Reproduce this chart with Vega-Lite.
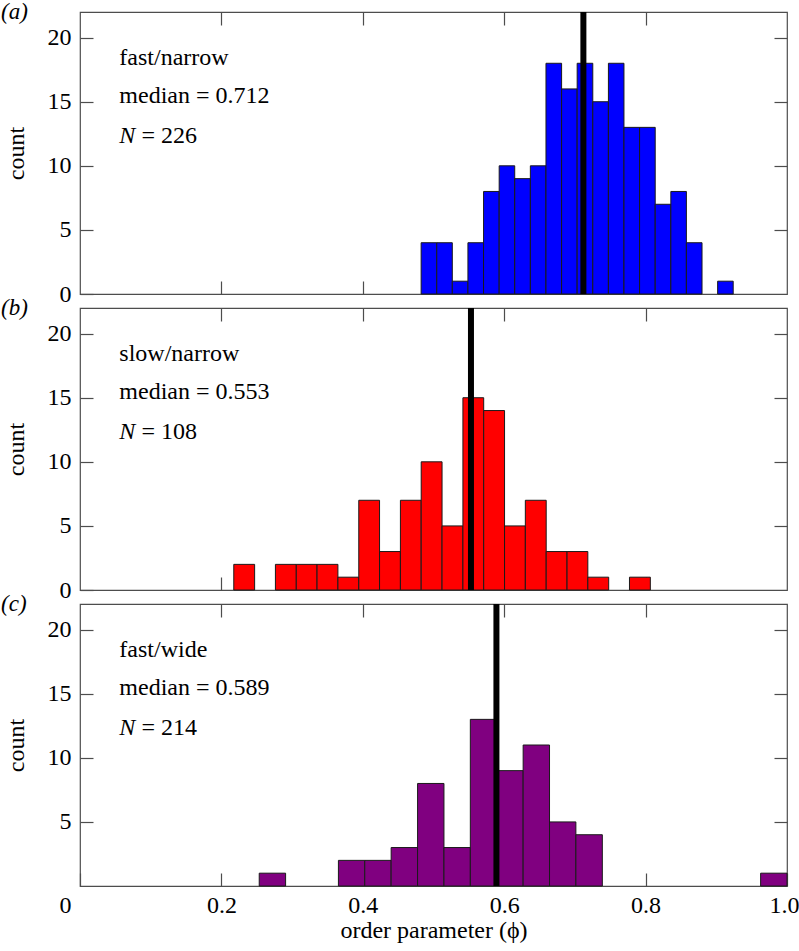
{
  "$schema": "https://vega.github.io/schema/vega-lite/v6.json",
  "padding": {"left": 0, "top": 0, "right": 0, "bottom": 0},
  "background": "white",
  "datasets": {
    "bins": [
      {"panel": "a", "bin_start": 0.4825, "bin_end": 0.5046, "count": 4},
      {"panel": "a", "bin_start": 0.5046, "bin_end": 0.5266, "count": 4},
      {"panel": "a", "bin_start": 0.5266, "bin_end": 0.5487, "count": 1},
      {"panel": "a", "bin_start": 0.5487, "bin_end": 0.5708, "count": 4},
      {"panel": "a", "bin_start": 0.5708, "bin_end": 0.5929, "count": 8},
      {"panel": "a", "bin_start": 0.5929, "bin_end": 0.6149, "count": 10},
      {"panel": "a", "bin_start": 0.6149, "bin_end": 0.6370, "count": 9},
      {"panel": "a", "bin_start": 0.6370, "bin_end": 0.6591, "count": 10},
      {"panel": "a", "bin_start": 0.6591, "bin_end": 0.6812, "count": 18},
      {"panel": "a", "bin_start": 0.6812, "bin_end": 0.7032, "count": 16},
      {"panel": "a", "bin_start": 0.7032, "bin_end": 0.7253, "count": 18},
      {"panel": "a", "bin_start": 0.7253, "bin_end": 0.7474, "count": 15},
      {"panel": "a", "bin_start": 0.7474, "bin_end": 0.7694, "count": 18},
      {"panel": "a", "bin_start": 0.7694, "bin_end": 0.7915, "count": 13},
      {"panel": "a", "bin_start": 0.7915, "bin_end": 0.8136, "count": 13},
      {"panel": "a", "bin_start": 0.8136, "bin_end": 0.8357, "count": 7},
      {"panel": "a", "bin_start": 0.8357, "bin_end": 0.8577, "count": 8},
      {"panel": "a", "bin_start": 0.8577, "bin_end": 0.8798, "count": 4},
      {"panel": "a", "bin_start": 0.9019, "bin_end": 0.9239, "count": 1},
      {"panel": "b", "bin_start": 0.2175, "bin_end": 0.2470, "count": 2},
      {"panel": "b", "bin_start": 0.2764, "bin_end": 0.3059, "count": 2},
      {"panel": "b", "bin_start": 0.3059, "bin_end": 0.3353, "count": 2},
      {"panel": "b", "bin_start": 0.3353, "bin_end": 0.3648, "count": 2},
      {"panel": "b", "bin_start": 0.3648, "bin_end": 0.3943, "count": 1},
      {"panel": "b", "bin_start": 0.3943, "bin_end": 0.4237, "count": 7},
      {"panel": "b", "bin_start": 0.4237, "bin_end": 0.4532, "count": 3},
      {"panel": "b", "bin_start": 0.4532, "bin_end": 0.4826, "count": 7},
      {"panel": "b", "bin_start": 0.4826, "bin_end": 0.5121, "count": 10},
      {"panel": "b", "bin_start": 0.5121, "bin_end": 0.5416, "count": 5},
      {"panel": "b", "bin_start": 0.5416, "bin_end": 0.5710, "count": 15},
      {"panel": "b", "bin_start": 0.5710, "bin_end": 0.6005, "count": 14},
      {"panel": "b", "bin_start": 0.6005, "bin_end": 0.6299, "count": 5},
      {"panel": "b", "bin_start": 0.6299, "bin_end": 0.6594, "count": 7},
      {"panel": "b", "bin_start": 0.6594, "bin_end": 0.6889, "count": 3},
      {"panel": "b", "bin_start": 0.6889, "bin_end": 0.7183, "count": 3},
      {"panel": "b", "bin_start": 0.7183, "bin_end": 0.7478, "count": 1},
      {"panel": "b", "bin_start": 0.7772, "bin_end": 0.8067, "count": 1},
      {"panel": "c", "bin_start": 0.2535, "bin_end": 0.2908, "count": 1},
      {"panel": "c", "bin_start": 0.3655, "bin_end": 0.4028, "count": 2},
      {"panel": "c", "bin_start": 0.4028, "bin_end": 0.4401, "count": 2},
      {"panel": "c", "bin_start": 0.4401, "bin_end": 0.4775, "count": 3},
      {"panel": "c", "bin_start": 0.4775, "bin_end": 0.5148, "count": 8},
      {"panel": "c", "bin_start": 0.5148, "bin_end": 0.5521, "count": 3},
      {"panel": "c", "bin_start": 0.5521, "bin_end": 0.5895, "count": 13},
      {"panel": "c", "bin_start": 0.5895, "bin_end": 0.6268, "count": 9},
      {"panel": "c", "bin_start": 0.6268, "bin_end": 0.6641, "count": 11},
      {"panel": "c", "bin_start": 0.6641, "bin_end": 0.7014, "count": 5},
      {"panel": "c", "bin_start": 0.7014, "bin_end": 0.7388, "count": 4},
      {"panel": "c", "bin_start": 0.9627, "bin_end": 1.0, "count": 1}
    ],
    "info": [
      {"panel": "a", "tag": "(a)", "condition": "fast/narrow", "median": 0.712, "median_label": "median = 0.712", "n_label": "= 226"},
      {"panel": "b", "tag": "(b)", "condition": "slow/narrow", "median": 0.553, "median_label": "median = 0.553", "n_label": "= 108"},
      {"panel": "c", "tag": "(c)", "condition": "fast/wide", "median": 0.589, "median_label": "median = 0.589", "n_label": "= 214"}
    ]
  },
  "spacing": 14,
  "bounds": "flush",
  "vconcat": [
    {
      "width": 707, "height": 282,
      "layer": [
        {
          "data": {"name": "bins"},
          "transform": [{"filter": "datum.panel == 'a'"}],
          "mark": {"type": "bar", "fill": "#0000ff", "stroke": "#1a1a1a", "strokeWidth": 1},
          "encoding": {
            "x": {"field": "bin_start", "type": "quantitative", "scale": {"domain": [0, 1], "nice": false, "zero": false},
                  "axis": {"orient": "bottom", "labels": false, "title": null, "values": [0.2, 0.4, 0.6, 0.8]}},
            "x2": {"field": "bin_end"},
            "y": {"field": "count", "type": "quantitative", "scale": {"domain": [0, 22], "nice": false},
                  "axis": {"orient": "left", "title": "count", "values": [0, 5, 10, 15, 20]}},
            "y2": {"datum": 0}
          }
        },
        {
          "data": {"name": "info"},
          "transform": [{"filter": "datum.panel == 'a'"}],
          "mark": {"type": "rule", "color": "#000000", "strokeWidth": 6},
          "encoding": {
            "x": {"field": "median", "type": "quantitative", "axis": {"orient": "top", "labels": false, "title": null, "values": [0.2, 0.4, 0.6, 0.8]}},
            "y": {"datum": 0, "type": "quantitative", "axis": {"orient": "right", "labels": false, "title": null, "values": [5, 10, 15, 20]}},
            "y2": {"datum": 22}
          }
        },
        {
          "data": {"name": "info"},
          "transform": [{"filter": "datum.panel == 'a'"}],
          "mark": {"type": "text", "align": "left", "baseline": "middle", "fontSize": 23, "font": "Liberation Serif", "fontStyle": "italic"},
          "encoding": {
            "x": {"datum": -0.1117, "type": "quantitative", "axis": null},
            "y": {"datum": 22, "type": "quantitative", "axis": null},
            "text": {"field": "tag"}
          }
        },
        {
          "data": {"name": "info"},
          "transform": [{"filter": "datum.panel == 'a'"}],
          "mark": {"type": "text", "align": "left", "baseline": "middle", "fontSize": 24, "font": "Liberation Serif"},
          "encoding": {
            "x": {"datum": 0.0556, "type": "quantitative", "axis": null},
            "y": {"datum": 18.45, "type": "quantitative", "axis": null},
            "text": {"field": "condition"}
          }
        },
        {
          "data": {"name": "info"},
          "transform": [{"filter": "datum.panel == 'a'"}],
          "mark": {"type": "text", "align": "left", "baseline": "middle", "fontSize": 24, "font": "Liberation Serif"},
          "encoding": {
            "x": {"datum": 0.0556, "type": "quantitative", "axis": null},
            "y": {"datum": 15.45, "type": "quantitative", "axis": null},
            "text": {"field": "median_label"}
          }
        },
        {
          "data": {"name": "info"},
          "transform": [{"filter": "datum.panel == 'a'"}],
          "mark": {"type": "text", "align": "left", "baseline": "middle", "fontSize": 24, "font": "Liberation Serif", "fontStyle": "italic"},
          "encoding": {
            "x": {"datum": 0.0556, "type": "quantitative", "axis": null},
            "y": {"datum": 12.35, "type": "quantitative", "axis": null},
            "text": {"value": "N"}
          }
        },
        {
          "data": {"name": "info"},
          "transform": [{"filter": "datum.panel == 'a'"}],
          "mark": {"type": "text", "align": "left", "baseline": "middle", "fontSize": 24, "font": "Liberation Serif"},
          "encoding": {
            "x": {"datum": 0.087, "type": "quantitative", "axis": null},
            "y": {"datum": 12.35, "type": "quantitative", "axis": null},
            "text": {"field": "n_label"}
          }
        }
      ],
      "resolve": {"axis": {"x": "independent", "y": "independent"}}
    },
    {
      "width": 707, "height": 282,
      "layer": [
        {
          "data": {"name": "bins"},
          "transform": [{"filter": "datum.panel == 'b'"}],
          "mark": {"type": "bar", "fill": "#ff0000", "stroke": "#1a1a1a", "strokeWidth": 1},
          "encoding": {
            "x": {"field": "bin_start", "type": "quantitative", "scale": {"domain": [0, 1], "nice": false, "zero": false},
                  "axis": {"orient": "bottom", "labels": false, "title": null, "values": [0.2, 0.4, 0.6, 0.8]}},
            "x2": {"field": "bin_end"},
            "y": {"field": "count", "type": "quantitative", "scale": {"domain": [0, 22], "nice": false},
                  "axis": {"orient": "left", "title": "count", "values": [0, 5, 10, 15, 20]}},
            "y2": {"datum": 0}
          }
        },
        {
          "data": {"name": "info"},
          "transform": [{"filter": "datum.panel == 'b'"}],
          "mark": {"type": "rule", "color": "#000000", "strokeWidth": 6},
          "encoding": {
            "x": {"field": "median", "type": "quantitative", "axis": {"orient": "top", "labels": false, "title": null, "values": [0.2, 0.4, 0.6, 0.8]}},
            "y": {"datum": 0, "type": "quantitative", "axis": {"orient": "right", "labels": false, "title": null, "values": [5, 10, 15, 20]}},
            "y2": {"datum": 22}
          }
        },
        {
          "data": {"name": "info"},
          "transform": [{"filter": "datum.panel == 'b'"}],
          "mark": {"type": "text", "align": "left", "baseline": "middle", "fontSize": 23, "font": "Liberation Serif", "fontStyle": "italic"},
          "encoding": {
            "x": {"datum": -0.1117, "type": "quantitative", "axis": null},
            "y": {"datum": 22, "type": "quantitative", "axis": null},
            "text": {"field": "tag"}
          }
        },
        {
          "data": {"name": "info"},
          "transform": [{"filter": "datum.panel == 'b'"}],
          "mark": {"type": "text", "align": "left", "baseline": "middle", "fontSize": 24, "font": "Liberation Serif"},
          "encoding": {
            "x": {"datum": 0.0556, "type": "quantitative", "axis": null},
            "y": {"datum": 18.45, "type": "quantitative", "axis": null},
            "text": {"field": "condition"}
          }
        },
        {
          "data": {"name": "info"},
          "transform": [{"filter": "datum.panel == 'b'"}],
          "mark": {"type": "text", "align": "left", "baseline": "middle", "fontSize": 24, "font": "Liberation Serif"},
          "encoding": {
            "x": {"datum": 0.0556, "type": "quantitative", "axis": null},
            "y": {"datum": 15.45, "type": "quantitative", "axis": null},
            "text": {"field": "median_label"}
          }
        },
        {
          "data": {"name": "info"},
          "transform": [{"filter": "datum.panel == 'b'"}],
          "mark": {"type": "text", "align": "left", "baseline": "middle", "fontSize": 24, "font": "Liberation Serif", "fontStyle": "italic"},
          "encoding": {
            "x": {"datum": 0.0556, "type": "quantitative", "axis": null},
            "y": {"datum": 12.35, "type": "quantitative", "axis": null},
            "text": {"value": "N"}
          }
        },
        {
          "data": {"name": "info"},
          "transform": [{"filter": "datum.panel == 'b'"}],
          "mark": {"type": "text", "align": "left", "baseline": "middle", "fontSize": 24, "font": "Liberation Serif"},
          "encoding": {
            "x": {"datum": 0.087, "type": "quantitative", "axis": null},
            "y": {"datum": 12.35, "type": "quantitative", "axis": null},
            "text": {"field": "n_label"}
          }
        }
      ],
      "resolve": {"axis": {"x": "independent", "y": "independent"}}
    },
    {
      "width": 707, "height": 282,
      "layer": [
        {
          "data": {"name": "bins"},
          "transform": [{"filter": "datum.panel == 'c'"}],
          "mark": {"type": "bar", "fill": "#800080", "stroke": "#1a1a1a", "strokeWidth": 1},
          "encoding": {
            "x": {"field": "bin_start", "type": "quantitative", "scale": {"domain": [0, 1], "nice": false, "zero": false},
                  "axis": {"orient": "bottom", "title": "order parameter (ϕ)", "values": [0, 0.2, 0.4, 0.6, 0.8, 1],
                           "labelFlush": false,
                           "labelExpr": "datum.value == 0 ? '0' : format(datum.value, '.1f')",
                           "labelOffset": {"expr": "datum.value == 0 ? -15 : (datum.value == 1 ? -3 : 0)"}}},
            "x2": {"field": "bin_end"},
            "y": {"field": "count", "type": "quantitative", "scale": {"domain": [0, 22], "nice": false},
                  "axis": {"orient": "left", "title": "count", "values": [5, 10, 15, 20]}},
            "y2": {"datum": 0}
          }
        },
        {
          "data": {"name": "info"},
          "transform": [{"filter": "datum.panel == 'c'"}],
          "mark": {"type": "rule", "color": "#000000", "strokeWidth": 6},
          "encoding": {
            "x": {"field": "median", "type": "quantitative", "axis": {"orient": "top", "labels": false, "title": null, "values": [0.2, 0.4, 0.6, 0.8]}},
            "y": {"datum": 0, "type": "quantitative", "axis": {"orient": "right", "labels": false, "title": null, "values": [5, 10, 15, 20]}},
            "y2": {"datum": 22}
          }
        },
        {
          "data": {"name": "info"},
          "transform": [{"filter": "datum.panel == 'c'"}],
          "mark": {"type": "text", "align": "left", "baseline": "middle", "fontSize": 23, "font": "Liberation Serif", "fontStyle": "italic"},
          "encoding": {
            "x": {"datum": -0.1117, "type": "quantitative", "axis": null},
            "y": {"datum": 22, "type": "quantitative", "axis": null},
            "text": {"field": "tag"}
          }
        },
        {
          "data": {"name": "info"},
          "transform": [{"filter": "datum.panel == 'c'"}],
          "mark": {"type": "text", "align": "left", "baseline": "middle", "fontSize": 24, "font": "Liberation Serif"},
          "encoding": {
            "x": {"datum": 0.0556, "type": "quantitative", "axis": null},
            "y": {"datum": 18.45, "type": "quantitative", "axis": null},
            "text": {"field": "condition"}
          }
        },
        {
          "data": {"name": "info"},
          "transform": [{"filter": "datum.panel == 'c'"}],
          "mark": {"type": "text", "align": "left", "baseline": "middle", "fontSize": 24, "font": "Liberation Serif"},
          "encoding": {
            "x": {"datum": 0.0556, "type": "quantitative", "axis": null},
            "y": {"datum": 15.45, "type": "quantitative", "axis": null},
            "text": {"field": "median_label"}
          }
        },
        {
          "data": {"name": "info"},
          "transform": [{"filter": "datum.panel == 'c'"}],
          "mark": {"type": "text", "align": "left", "baseline": "middle", "fontSize": 24, "font": "Liberation Serif", "fontStyle": "italic"},
          "encoding": {
            "x": {"datum": 0.0556, "type": "quantitative", "axis": null},
            "y": {"datum": 12.35, "type": "quantitative", "axis": null},
            "text": {"value": "N"}
          }
        },
        {
          "data": {"name": "info"},
          "transform": [{"filter": "datum.panel == 'c'"}],
          "mark": {"type": "text", "align": "left", "baseline": "middle", "fontSize": 24, "font": "Liberation Serif"},
          "encoding": {
            "x": {"datum": 0.087, "type": "quantitative", "axis": null},
            "y": {"datum": 12.35, "type": "quantitative", "axis": null},
            "text": {"field": "n_label"}
          }
        }
      ],
      "resolve": {"axis": {"x": "independent", "y": "independent"}}
    }
  ],
  "config": {
    "font": "Liberation Serif",
    "view": {"stroke": "#4d4d4d", "strokeWidth": 1.2},
    "axis": {
      "domain": false,
      "grid": false,
      "tickSize": -13,
      "tickColor": "#4d4d4d",
      "tickWidth": 1.2,
      "labelFont": "Liberation Serif",
      "labelFontSize": 24,
      "labelColor": "#000000",
      "titleFont": "Liberation Serif",
      "titleFontSize": 24,
      "titleFontWeight": "normal",
      "titleColor": "#000000"
    },
    "axisY": {"titlePadding": 19, "labelPadding": 22},
    "axisX": {"titlePadding": 1, "labelPadding": 20}
  }
}
